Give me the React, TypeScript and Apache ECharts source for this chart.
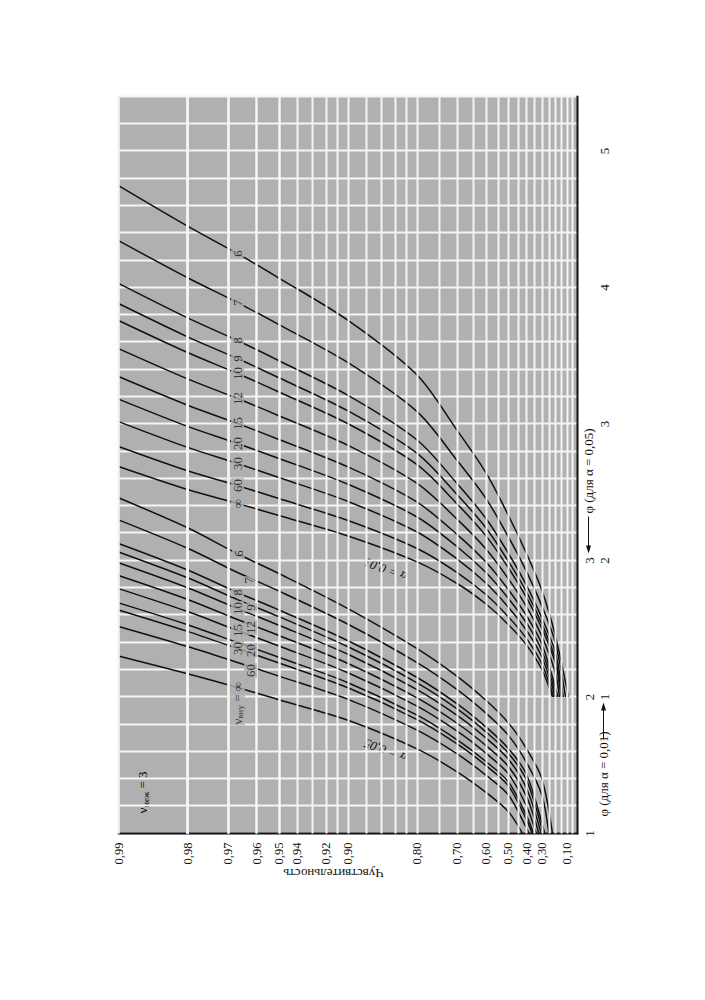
import React, { useEffect, useRef } from "react";
import * as echarts from "echarts";

// ---------- data ----------
const NU_LABELS = ["∞", "60", "30", "20", "15", "12", "10", "9", "8", "7", "6"];

// α = 0,05 curves: [φ (α = 0,05 scale), power]
const C05_INF = [[1.0, 0.424], [1.16, 0.5], [1.3, 0.6], [1.45, 0.7], [1.62, 0.8], [1.83, 0.9], [1.98, 0.95], [2.07, 0.967], [2.17, 0.98], [2.3, 0.99]];
const C05_60 = [[1.0, 0.386], [1.04, 0.4], [1.282, 0.5], [1.426, 0.6], [1.581, 0.7], [1.757, 0.8], [1.983, 0.9], [2.153, 0.95], [2.253, 0.967], [2.37, 0.98], [2.517, 0.99]];
const C05_30 = [[1.0, 0.365], [1.1, 0.4], [1.349, 0.5], [1.496, 0.6], [1.654, 0.7], [1.834, 0.8], [2.068, 0.9], [2.249, 0.95], [2.355, 0.967], [2.481, 0.98], [2.638, 0.99]];
const C05_20 = [[1.0, 0.356], [1.13, 0.4], [1.378, 0.5], [1.526, 0.6], [1.685, 0.7], [1.867, 0.8], [2.105, 0.9], [2.291, 0.95], [2.399, 0.967], [2.53, 0.98], [2.69, 0.99]];
const C05_15 = [[1.0, 0.338], [1.2, 0.4], [1.437, 0.5], [1.587, 0.6], [1.748, 0.7], [1.933, 0.8], [2.178, 0.9], [2.374, 0.95], [2.487, 0.967], [2.626, 0.98], [2.794, 0.99]];
const C05_12 = [[1.0, 0.321], [1.27, 0.4], [1.491, 0.5], [1.643, 0.6], [1.806, 0.7], [1.994, 0.8], [2.246, 0.9], [2.451, 0.95], [2.568, 0.967], [2.715, 0.98], [2.89, 0.99]];
const C05_10 = [[1.0, 0.305], [1.33, 0.4], [1.544, 0.5], [1.698, 0.6], [1.863, 0.7], [2.054, 0.8], [2.313, 0.9], [2.526, 0.95], [2.648, 0.967], [2.801, 0.98], [2.984, 0.99]];
const C05_9 = [[1.0, 0.291], [1.39, 0.4], [1.588, 0.5], [1.743, 0.6], [1.911, 0.7], [2.104, 0.8], [2.368, 0.9], [2.589, 0.95], [2.714, 0.967], [2.874, 0.98], [3.063, 0.99]];
const C05_8 = [[1.0, 0.28], [1.43, 0.4], [1.622, 0.5], [1.779, 0.6], [1.948, 0.7], [2.143, 0.8], [2.412, 0.9], [2.638, 0.95], [2.766, 0.967], [2.931, 0.98], [3.125, 0.99]];
const C05_7 = [[1.0, 0.25], [1.28, 0.3], [1.52, 0.4], [1.719, 0.5], [1.88, 0.6], [2.052, 0.7], [2.252, 0.8], [2.533, 0.9], [2.776, 0.95], [2.912, 0.967], [3.09, 0.98], [3.298, 0.99]];
const C05_6 = [[1.0, 0.222], [1.4, 0.3], [1.62, 0.4], [1.81, 0.5], [1.974, 0.6], [2.15, 0.7], [2.355, 0.8], [2.648, 0.9], [2.905, 0.95], [3.05, 0.967], [3.24, 0.98], [3.46, 0.99]];

// α = 0,01 curves: [φ (α = 0,01 scale), power]
const C01_INF = [[1.0, 0.222], [1.2, 0.3], [1.38, 0.4], [1.53, 0.5], [1.68, 0.6], [1.83, 0.7], [1.99, 0.8], [2.18, 0.9], [2.33, 0.95], [2.418, 0.967], [2.52, 0.98], [2.689, 0.99]];
const C01_60 = [[1.0, 0.212], [1.241, 0.3], [1.428, 0.4], [1.587, 0.5], [1.749, 0.6], [1.91, 0.7], [2.088, 0.8], [2.293, 0.9], [2.454, 0.95], [2.549, 0.967], [2.658, 0.98], [2.836, 0.99]];
const C01_30 = [[1.0, 0.2], [1.293, 0.3], [1.487, 0.4], [1.658, 0.5], [1.834, 0.6], [2.009, 0.7], [2.209, 0.8], [2.433, 0.9], [2.608, 0.95], [2.711, 0.967], [2.829, 0.98], [3.018, 0.99]];
const C01_20 = [[1.0, 0.189], [1.339, 0.3], [1.541, 0.4], [1.722, 0.5], [1.91, 0.6], [2.099, 0.7], [2.319, 0.8], [2.559, 0.9], [2.748, 0.95], [2.857, 0.967], [2.983, 0.98], [3.183, 0.99]];
const C01_15 = [[1.0, 0.178], [1.386, 0.3], [1.594, 0.4], [1.786, 0.5], [1.987, 0.6], [2.188, 0.7], [2.428, 0.8], [2.686, 0.9], [2.887, 0.95], [3.004, 0.967], [3.138, 0.98], [3.348, 0.99]];
const C01_12 = [[1.0, 0.165], [1.18, 0.2], [1.444, 0.3], [1.661, 0.4], [1.866, 0.5], [2.083, 0.6], [2.3, 0.7], [2.565, 0.8], [2.844, 0.9], [3.061, 0.95], [3.187, 0.967], [3.331, 0.98], [3.553, 0.99]];
const C01_10 = [[1.0, 0.151], [1.25, 0.2], [1.502, 0.3], [1.728, 0.4], [1.946, 0.5], [2.179, 0.6], [2.412, 0.7], [2.702, 0.8], [3.002, 0.9], [3.235, 0.95], [3.37, 0.967], [3.524, 0.98], [3.759, 0.99]];
const C01_9 = [[1.0, 0.143], [1.28, 0.2], [1.536, 0.3], [1.769, 0.4], [1.994, 0.5], [2.237, 0.6], [2.48, 0.7], [2.785, 0.8], [3.096, 0.9], [3.339, 0.95], [3.48, 0.967], [3.639, 0.98], [3.883, 0.99]];
const C01_8 = [[1.0, 0.133], [1.33, 0.2], [1.578, 0.3], [1.817, 0.4], [2.052, 0.5], [2.306, 0.6], [2.56, 0.7], [2.883, 0.8], [3.21, 0.9], [3.464, 0.95], [3.612, 0.967], [3.778, 0.98], [4.031, 0.99]];
const C01_7 = [[1.0, 0.113], [1.4, 0.2], [1.666, 0.3], [1.919, 0.4], [2.173, 0.5], [2.452, 0.6], [2.73, 0.7], [3.091, 0.8], [3.45, 0.9], [3.729, 0.95], [3.89, 0.967], [4.072, 0.98], [4.344, 0.99]];
const C01_6 = [[1.0, 0.086], [1.45, 0.2], [1.78, 0.3], [2.05, 0.4], [2.33, 0.5], [2.64, 0.6], [2.95, 0.7], [3.36, 0.8], [3.76, 0.9], [4.07, 0.95], [4.249, 0.967], [4.45, 0.98], [4.747, 0.99]];

// curve label anchors (φ, power), same order as NU_LABELS
const LABEL05_PHI = [2.07, 2.194, 2.355, 2.341, 2.487, 2.509, 2.648, 2.656, 2.766, 2.853, 3.051];
const LABEL05_P = [0.967, 0.9624, 0.967, 0.9624, 0.967, 0.9624, 0.967, 0.9624, 0.967, 0.9632, 0.9667];
const LABEL01_PHI = [2.418, 2.549, 2.711, 2.857, 3.004, 3.187, 3.37, 3.48, 3.612, 3.89, 4.249];
const LABEL01_P = [0.967, 0.967, 0.967, 0.967, 0.967, 0.967, 0.967, 0.967, 0.967, 0.967, 0.967];

// axes
const POWER_TICKS = [0.99, 0.98, 0.97, 0.96, 0.95, 0.94, 0.92, 0.9, 0.8, 0.7, 0.6, 0.5, 0.4, 0.3, 0.2, 0.1];
const POWER_GRID = [
  0.988, 0.986, 0.984, 0.982, 0.98, 0.978, 0.976, 0.974, 0.972, 0.97,
  0.965, 0.96, 0.955, 0.95, 0.94, 0.93, 0.92, 0.91, 0.9,
  0.88, 0.86, 0.84, 0.82, 0.8, 0.75, 0.7, 0.65, 0.6, 0.55, 0.5,
  0.45, 0.4, 0.35, 0.3, 0.25, 0.2, 0.15, 0.1, 0.05,
];
const PHI05_TICKS = [1, 2, 3];
const PHI01_TICKS = [1, 2, 3, 4, 5];

const SERIF = "'Liberation Serif', 'DejaVu Serif', serif";
const INK = "#111";
const BG = "#b0b0b0";
const GRIDLINE = "#f4f4f4";

const C05 = [C05_INF, C05_60, C05_30, C05_20, C05_15, C05_12, C05_10, C05_9, C05_8, C05_7, C05_6];
const C01 = [C01_INF, C01_60, C01_30, C01_20, C01_15, C01_12, C01_10, C01_9, C01_8, C01_7, C01_6];

const fmtPower = (v: number) => (1 - v).toFixed(2).replace(".", ",");

function buildOption() {
  const curveSeries = (curves: number[][][], axis: number, tag: string) =>
    curves.map((pts, k) => ({
      type: "line",
      name: tag + NU_LABELS[k],
      xAxisIndex: axis,
      yAxisIndex: 0,
      data: pts.map(([f, p]) => [f, 1 - p]),
      showSymbol: false,
      smooth: 0.3,
      silent: true,
      lineStyle: { color: INK, width: 1.5 },
      z: 3,
    }));

  const rich = {
    n: { fontFamily: SERIF, fontSize: 13, color: INK },
    s: { fontFamily: SERIF, fontSize: 9, color: INK, padding: [6, 0, 0, 0] },
  };

  const labelSeries = (phis: number[], ps: number[], axis: number, special: boolean) => ({
    type: "scatter",
    xAxisIndex: axis,
    yAxisIndex: 0,
    symbolSize: 1,
    silent: true,
    itemStyle: { color: "rgba(0,0,0,0)" },
    z: 5,
    label: {
      show: true,
      position: "inside",
      formatter: (p: any) => p.name,
      fontFamily: SERIF,
      fontSize: 13,
      color: INK,
      backgroundColor: BG,
      padding: [0, 1],
    },
    data: phis.map((f, i) => {
      const item: any = { value: [f, 1 - ps[i]], name: NU_LABELS[i] };
      if (special && i === 0) {
        item.label = {
          formatter: "{n|ν}{s|вну}{n| = ∞}",
          position: "left",
          distance: -7,
          rich,
          backgroundColor: BG,
        };
      }
      return item;
    }),
  });

  return {
    animation: false,
    backgroundColor: "#ffffff",
    grid: { left: 167, right: 96, top: 118, bottom: 128, show: true, backgroundColor: BG, borderWidth: 0 },
    xAxis: [
      {
        type: "value",
        min: 1,
        max: 6.4,
        interval: 0.2,
        position: "bottom",
        axisLine: { show: true, onZero: false, lineStyle: { color: INK, width: 2 } },
        axisTick: { show: false },
        splitLine: { show: true, lineStyle: { color: GRIDLINE, width: 2 } },
        axisLabel: {
          customValues: PHI05_TICKS,
          formatter: (v: number) => String(Math.round(v)),
          fontFamily: SERIF,
          fontSize: 13,
          color: INK,
          margin: 5,
          hideOverlap: false,
        },
      },
      {
        type: "value",
        min: 0,
        max: 5.4,
        position: "bottom",
        offset: 15,
        axisLine: { show: false },
        axisTick: { show: false },
        splitLine: { show: false },
        axisLabel: {
          customValues: PHI01_TICKS,
          formatter: (v: number) => String(Math.round(v)),
          fontFamily: SERIF,
          fontSize: 13,
          color: INK,
          margin: 5,
          hideOverlap: false,
        },
      },
    ],
    yAxis: {
      type: "log",
      logBase: 10,
      min: 0.01,
      max: 1,
      inverse: true,
      axisLine: { show: true, onZero: false, lineStyle: { color: INK, width: 2 } },
      axisTick: { show: false },
      splitLine: { show: false },
      minorSplitLine: { show: false },
      axisLabel: {
        customValues: POWER_TICKS.map((p) => 1 - p),
        formatter: fmtPower,
        fontFamily: SERIF,
        fontSize: 12.5,
        color: INK,
        margin: 9,
        hideOverlap: false,
        showMinLabel: true,
        showMaxLabel: true,
      },
    },
    graphic: [
      {
        type: "text",
        x: 127,
        y: 333,
        rotation: Math.PI / 2,
        style: { text: "Чувствительность", fontFamily: SERIF, fontSize: 13, fill: INK, align: "center", verticalAlign: "middle" },
      },
      {
        type: "text",
        x: 208,
        y: 142,
        style: { text: "{n|ν}{s|меж}{n| = 3}", rich, align: "center", verticalAlign: "middle" },
      },
      {
        type: "text",
        x: 250,
        y: 385,
        rotation: (70 * Math.PI) / 180,
        style: { text: "α = 0,05", fontFamily: SERIF, fontStyle: "italic", fontSize: 13, fill: INK, align: "center", verticalAlign: "middle" },
      },
      {
        type: "text",
        x: 431,
        y: 385,
        rotation: (70 * Math.PI) / 180,
        style: { text: "α = 0,01", fontFamily: SERIF, fontStyle: "italic", fontSize: 13, fill: INK, align: "center", verticalAlign: "middle" },
      },
      {
        type: "text",
        x: 184,
        y: 603,
        style: { text: "φ (для α = 0,01)", fontFamily: SERIF, fontSize: 13, fill: INK, align: "left", verticalAlign: "middle" },
      },
      { type: "line", shape: { x1: 261, y1: 603, x2: 294, y2: 603 }, style: { stroke: INK, lineWidth: 1 } },
      { type: "polygon", shape: { points: [[298, 603], [290, 600.5], [290, 605.5]] }, style: { fill: INK } },
      {
        type: "text",
        x: 487,
        y: 588,
        style: { text: "φ (для α = 0,05)", fontFamily: SERIF, fontSize: 13, fill: INK, align: "left", verticalAlign: "middle" },
      },
      { type: "line", shape: { x1: 451, y1: 588, x2: 484, y2: 588 }, style: { stroke: INK, lineWidth: 1 } },
      { type: "polygon", shape: { points: [[447, 588], [455, 585.5], [455, 590.5]] }, style: { fill: INK } },
    ],
    series: [
      {
        type: "line",
        name: "grid",
        xAxisIndex: 0,
        yAxisIndex: 0,
        data: [[1.5, 0.5]],
        showSymbol: false,
        silent: true,
        lineStyle: { opacity: 0 },
        z: 1,
        markLine: {
          silent: true,
          symbol: ["none", "none"],
          label: { show: false },
          lineStyle: { color: GRIDLINE, width: 2, type: "solid" },
          data: POWER_GRID.map((p) => ({ yAxis: 1 - p })),
        },
      },
      ...curveSeries(C05, 0, "a05-"),
      ...curveSeries(C01, 1, "a01-"),
      labelSeries(LABEL05_PHI, LABEL05_P, 0, true),
      labelSeries(LABEL01_PHI, LABEL01_P, 1, false),
    ],
  };
}

export default function App() {
  const ref = useRef<HTMLDivElement>(null);
  useEffect(() => {
    if (!ref.current) return;
    const chart = echarts.init(ref.current, undefined, { renderer: "svg" });
    chart.setOption(buildOption() as any);
    return () => chart.dispose();
  }, []);
  return (
    <div style={{ position: "absolute", left: 0, top: 0, width: 705, height: 1000, overflow: "hidden", background: "#fff" }}>
      <div
        ref={ref}
        style={{
          position: "absolute",
          left: -147.5,
          top: 147.5,
          width: 1000,
          height: 705,
          transform: "rotate(-90deg)",
          transformOrigin: "50% 50%",
        }}
      />
    </div>
  );
}
